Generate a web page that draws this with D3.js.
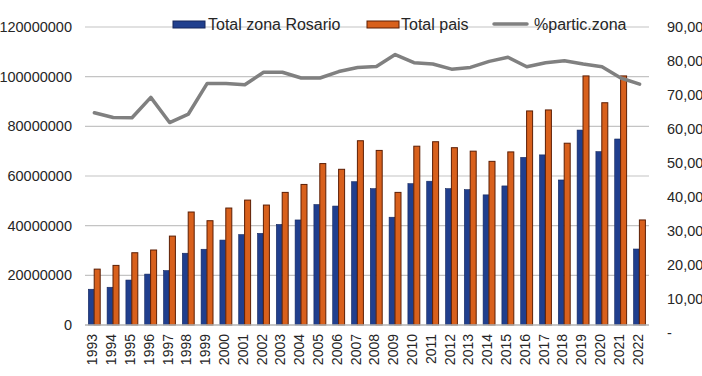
<!DOCTYPE html>
<html>
<head>
<meta charset="utf-8">
<script src="https://cdn.jsdelivr.net/npm/d3@7"></script>
<style>
  html, body { margin: 0; padding: 0; background: #fff; }
  svg { display: block; font-family: "Liberation Sans", Arial, sans-serif; }
</style>
</head>
<body>
<svg id="chart" width="702" height="376"></svg>
<script>
const years = ["1993","1994","1995","1996","1997","1998","1999","2000","2001","2002","2003","2004","2005","2006","2007","2008","2009","2010","2011","2012","2013","2014","2015","2016","2017","2018","2019","2020","2021","2022"];
const totalRosario = [14400000,15200000,18100000,20500000,21900000,28900000,30500000,34200000,36400000,36900000,40500000,42300000,48500000,47900000,57700000,54900000,43400000,56900000,57900000,54900000,54500000,52400000,56000000,67500000,68500000,58400000,78500000,69800000,74900000,30600000];
const totalPais = [22500000,24000000,29100000,30200000,35800000,45500000,42000000,47100000,50300000,48300000,53400000,56600000,65000000,62700000,74200000,70300000,53400000,72000000,73800000,71400000,70000000,65900000,69700000,86200000,86600000,73200000,100300000,89500000,100300000,42300000];
const particZona = [64.8,63.4,63.3,69.3,61.9,64.4,73.4,73.4,73.0,76.7,76.7,75.0,75.0,76.9,78.1,78.4,81.9,79.5,79.1,77.6,78.1,79.9,81.1,78.3,79.5,80.1,79.1,78.3,75.0,73.2];
const leftTicks = [0,20000000,40000000,60000000,80000000,100000000,120000000];
const rightTicks = [0,10,20,30,40,50,60,70,80,90];
const seriesNames = ["Total zona Rosario","Total pais","%partic.zona"];

const svg = d3.select("#chart");
const plotL = 85, plotR = 649, plotB = 325, plotT = 27;
const blue = "#203f8e", blueEdge = "#15275c";
const orange = "#d8601c", orangeEdge = "#5c1e05";
const gray = "#808080";

const x = d3.scaleBand().domain(years).range([plotL, plotR]);
const yL = d3.scaleLinear().domain([0, 120000000]).range([plotB, plotT]);
const yR = d3.scaleLinear().domain([0, 90]).range([333, 27]);

// gridlines
svg.append("g").selectAll("line").data(leftTicks.filter(d => d > 0)).join("line")
  .attr("x1", plotL).attr("x2", plotR)
  .attr("y1", d => yL(d)).attr("y2", d => yL(d))
  .attr("stroke", "#c4c4c4").attr("stroke-width", 1.2);

// left axis
const axL = svg.append("g").attr("transform", `translate(${plotL},0)`)
  .call(d3.axisLeft(yL).tickValues(leftTicks).tickFormat(d3.format("d")).tickSize(0).tickPadding(13));
axL.select(".domain").remove();
axL.selectAll("text").attr("font-size", 14.5).attr("fill", "#262626").attr("font-family", "Liberation Sans, Arial, sans-serif");

// right axis
const axR = svg.append("g").attr("transform", `translate(${plotR},0)`)
  .call(d3.axisRight(yR).tickValues(rightTicks)
    .tickFormat(d => d === 0 ? "-" : d3.format(".2f")(d).replace(".", ","))
    .tickSize(0).tickPadding(18));
axR.select(".domain").remove();
axR.selectAll("text").attr("font-size", 14.5).attr("fill", "#262626").attr("font-family", "Liberation Sans, Arial, sans-serif");

// bars
const bw = 5.6, ow = 6;
svg.append("g").selectAll("rect").data(years).join("rect")
  .attr("x", d => x(d) + x.bandwidth() / 2 - 6.1)
  .attr("y", (d, i) => yL(totalRosario[i]))
  .attr("width", bw)
  .attr("height", (d, i) => yL(0) - yL(totalRosario[i]))
  .attr("fill", blue).attr("stroke", blueEdge).attr("stroke-width", 0.6);
svg.append("g").selectAll("rect").data(years).join("rect")
  .attr("x", d => x(d) + x.bandwidth() / 2 - 0.2)
  .attr("y", (d, i) => yL(totalPais[i]))
  .attr("width", ow)
  .attr("height", (d, i) => yL(0) - yL(totalPais[i]))
  .attr("fill", orange).attr("stroke", orangeEdge).attr("stroke-width", 1);

// baseline
svg.append("line").attr("x1", plotL).attr("x2", plotR)
  .attr("y1", plotB).attr("y2", plotB)
  .attr("stroke", "#b3b3b3").attr("stroke-width", 1.5);

// x axis
const axX = svg.append("g").attr("transform", `translate(0,${plotB})`)
  .call(d3.axisBottom(x).tickSize(0));
axX.select(".domain").remove();
axX.selectAll("text")
  .attr("font-size", 14).attr("fill", "#262626").attr("font-family", "Liberation Sans, Arial, sans-serif")
  .attr("transform", "rotate(-90)")
  .attr("text-anchor", "end")
  .attr("x", -9).attr("y", 0).attr("dy", "0.21em");

// line
const line = d3.line()
  .x((d, i) => x(years[i]) + x.bandwidth() / 2)
  .y(d => yR(d));
svg.append("path").datum(particZona)
  .attr("d", line)
  .attr("fill", "none").attr("stroke", gray).attr("stroke-width", 3.5)
  .attr("stroke-linejoin", "round").attr("stroke-linecap", "round");

// legend
const lg = svg.append("g").attr("font-size", 16).attr("fill", "#262626");
lg.append("rect").attr("x", 173).attr("y", 21).attr("width", 32).attr("height", 7)
  .attr("fill", blue).attr("stroke", blueEdge).attr("stroke-width", 1);
lg.append("text").attr("x", 208).attr("y", 29.5).text(seriesNames[0]);
lg.append("rect").attr("x", 367).attr("y", 21).attr("width", 32).attr("height", 7)
  .attr("fill", orange).attr("stroke", orangeEdge).attr("stroke-width", 1);
lg.append("text").attr("x", 401).attr("y", 29.5).text(seriesNames[1]);
lg.append("line").attr("x1", 494).attr("x2", 527).attr("y1", 24).attr("y2", 24)
  .attr("stroke", gray).attr("stroke-width", 3.5).attr("stroke-linecap", "round");
lg.append("text").attr("x", 534).attr("y", 29.5).text(seriesNames[2]);
</script>
</body>
</html>
